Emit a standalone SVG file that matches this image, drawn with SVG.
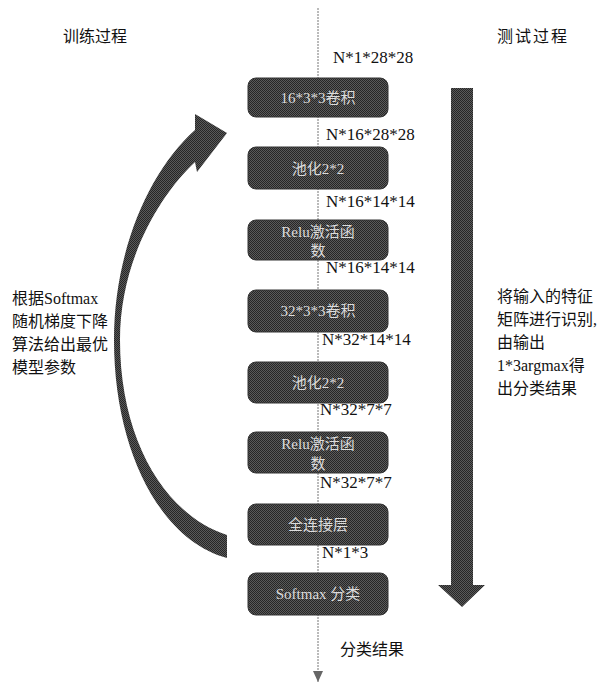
<svg xmlns="http://www.w3.org/2000/svg" width="616" height="684" viewBox="0 0 616 684">
<defs>
<pattern id="dither" width="2" height="2" patternUnits="userSpaceOnUse">
<rect width="2" height="2" fill="#5a5a5a"/>
<rect width="1" height="1" fill="#262626"/>
<rect x="1" y="1" width="1" height="1" fill="#262626"/>
</pattern>
<marker id="arr" markerWidth="12" markerHeight="10" refX="11" refY="5" orient="auto" markerUnits="userSpaceOnUse">
<path d="M0,0 L11,5 L0,10 Z" fill="#666"/>
</marker>
</defs>
<style>
.box{fill:url(#dither);stroke:#333;stroke-width:1}
.bt{font-family:"Liberation Serif","Noto Sans CJK SC",serif;font-size:15px;fill:#dcdcdc;text-anchor:middle}
.lbl{font-family:"Liberation Serif","Noto Sans CJK SC",serif;font-size:17px;fill:#111}
.cn{font-family:"Liberation Serif","Noto Sans CJK SC",serif;font-size:16px;fill:#111}
.big{fill:url(#dither)}
</style>
<rect width="616" height="684" fill="#fff"/>
<g id="connectors">
<line x1="318" y1="8" x2="318" y2="682" stroke="#777" stroke-width="1" stroke-dasharray="2,1" marker-end="url(#arr)"/>
</g>
<g id="train-arrow">
<path class="big" d="M227,558 C160,540 114,450 114,340 C114,250 150,170 195,130 L195,114 L227,133 L197,172 L195,162 C160,195 120,260 120,340 C120,440 165,515 227,535 Z"/>
</g>
<g id="test-arrow">
<path class="big" d="M451,88 L473,88 L473,585 L485,585 L462,607 L438,585 L451,585 Z"/>
</g>
<g id="titles">
<text class="cn" x="63" y="42" font-size="17">训练过程</text>
<text class="cn" x="497" y="42" font-size="17" letter-spacing="2">测试过程</text>
</g>
<g id="n1"><rect class="box" x="248" y="78" width="140" height="39" rx="8"/><text class="bt" x="318" y="103">16*3*3卷积</text></g>
<g id="n2"><rect class="box" x="248" y="147" width="140" height="42" rx="8"/><text class="bt" x="318" y="174">池化2*2</text></g>
<g id="n3"><rect class="box" x="248" y="220" width="140" height="40" rx="8"/><text class="bt" x="318" y="237">Relu激活函</text><text class="bt" x="318" y="256">数</text></g>
<g id="n4"><rect class="box" x="248" y="290" width="140" height="42" rx="8"/><text class="bt" x="318" y="316">32*3*3卷积</text></g>
<g id="n5"><rect class="box" x="248" y="362" width="140" height="41" rx="8"/><text class="bt" x="318" y="388">池化2*2</text></g>
<g id="n6"><rect class="box" x="248" y="432" width="140" height="41" rx="8"/><text class="bt" x="318" y="449">Relu激活函</text><text class="bt" x="318" y="469">数</text></g>
<g id="n7"><rect class="box" x="248" y="504" width="140" height="41" rx="8"/><text class="bt" x="318" y="530">全连接层</text></g>
<g id="n8"><rect class="box" x="248" y="573" width="140" height="42" rx="8"/><text class="bt" x="318" y="599">Softmax 分类</text></g>
<g id="labels">
<text class="lbl" x="333" y="63">N*1*28*28</text>
<text class="lbl" x="326" y="140">N*16*28*28</text>
<text class="lbl" x="326" y="207">N*16*14*14</text>
<text class="lbl" x="326" y="273">N*16*14*14</text>
<text class="lbl" x="322" y="345">N*32*14*14</text>
<text class="lbl" x="320" y="415">N*32*7*7</text>
<text class="lbl" x="320" y="488">N*32*7*7</text>
<text class="lbl" x="322" y="558">N*1*3</text>
<text class="cn" x="340" y="655" font-size="17">分类结果</text>
</g>
<g id="left-text">
<text class="cn" x="12" y="304">根据Softmax</text>
<text class="cn" x="12" y="327">随机梯度下降</text>
<text class="cn" x="12" y="350">算法给出最优</text>
<text class="cn" x="12" y="373">模型参数</text>
</g>
<g id="right-text">
<text class="cn" x="497" y="302">将输入的特征</text>
<text class="cn" x="497" y="325">矩阵进行识别,</text>
<text class="cn" x="497" y="348">由输出</text>
<text class="cn" x="497" y="371">1*3argmax得</text>
<text class="cn" x="497" y="394">出分类结果</text>
</g>
</svg>
